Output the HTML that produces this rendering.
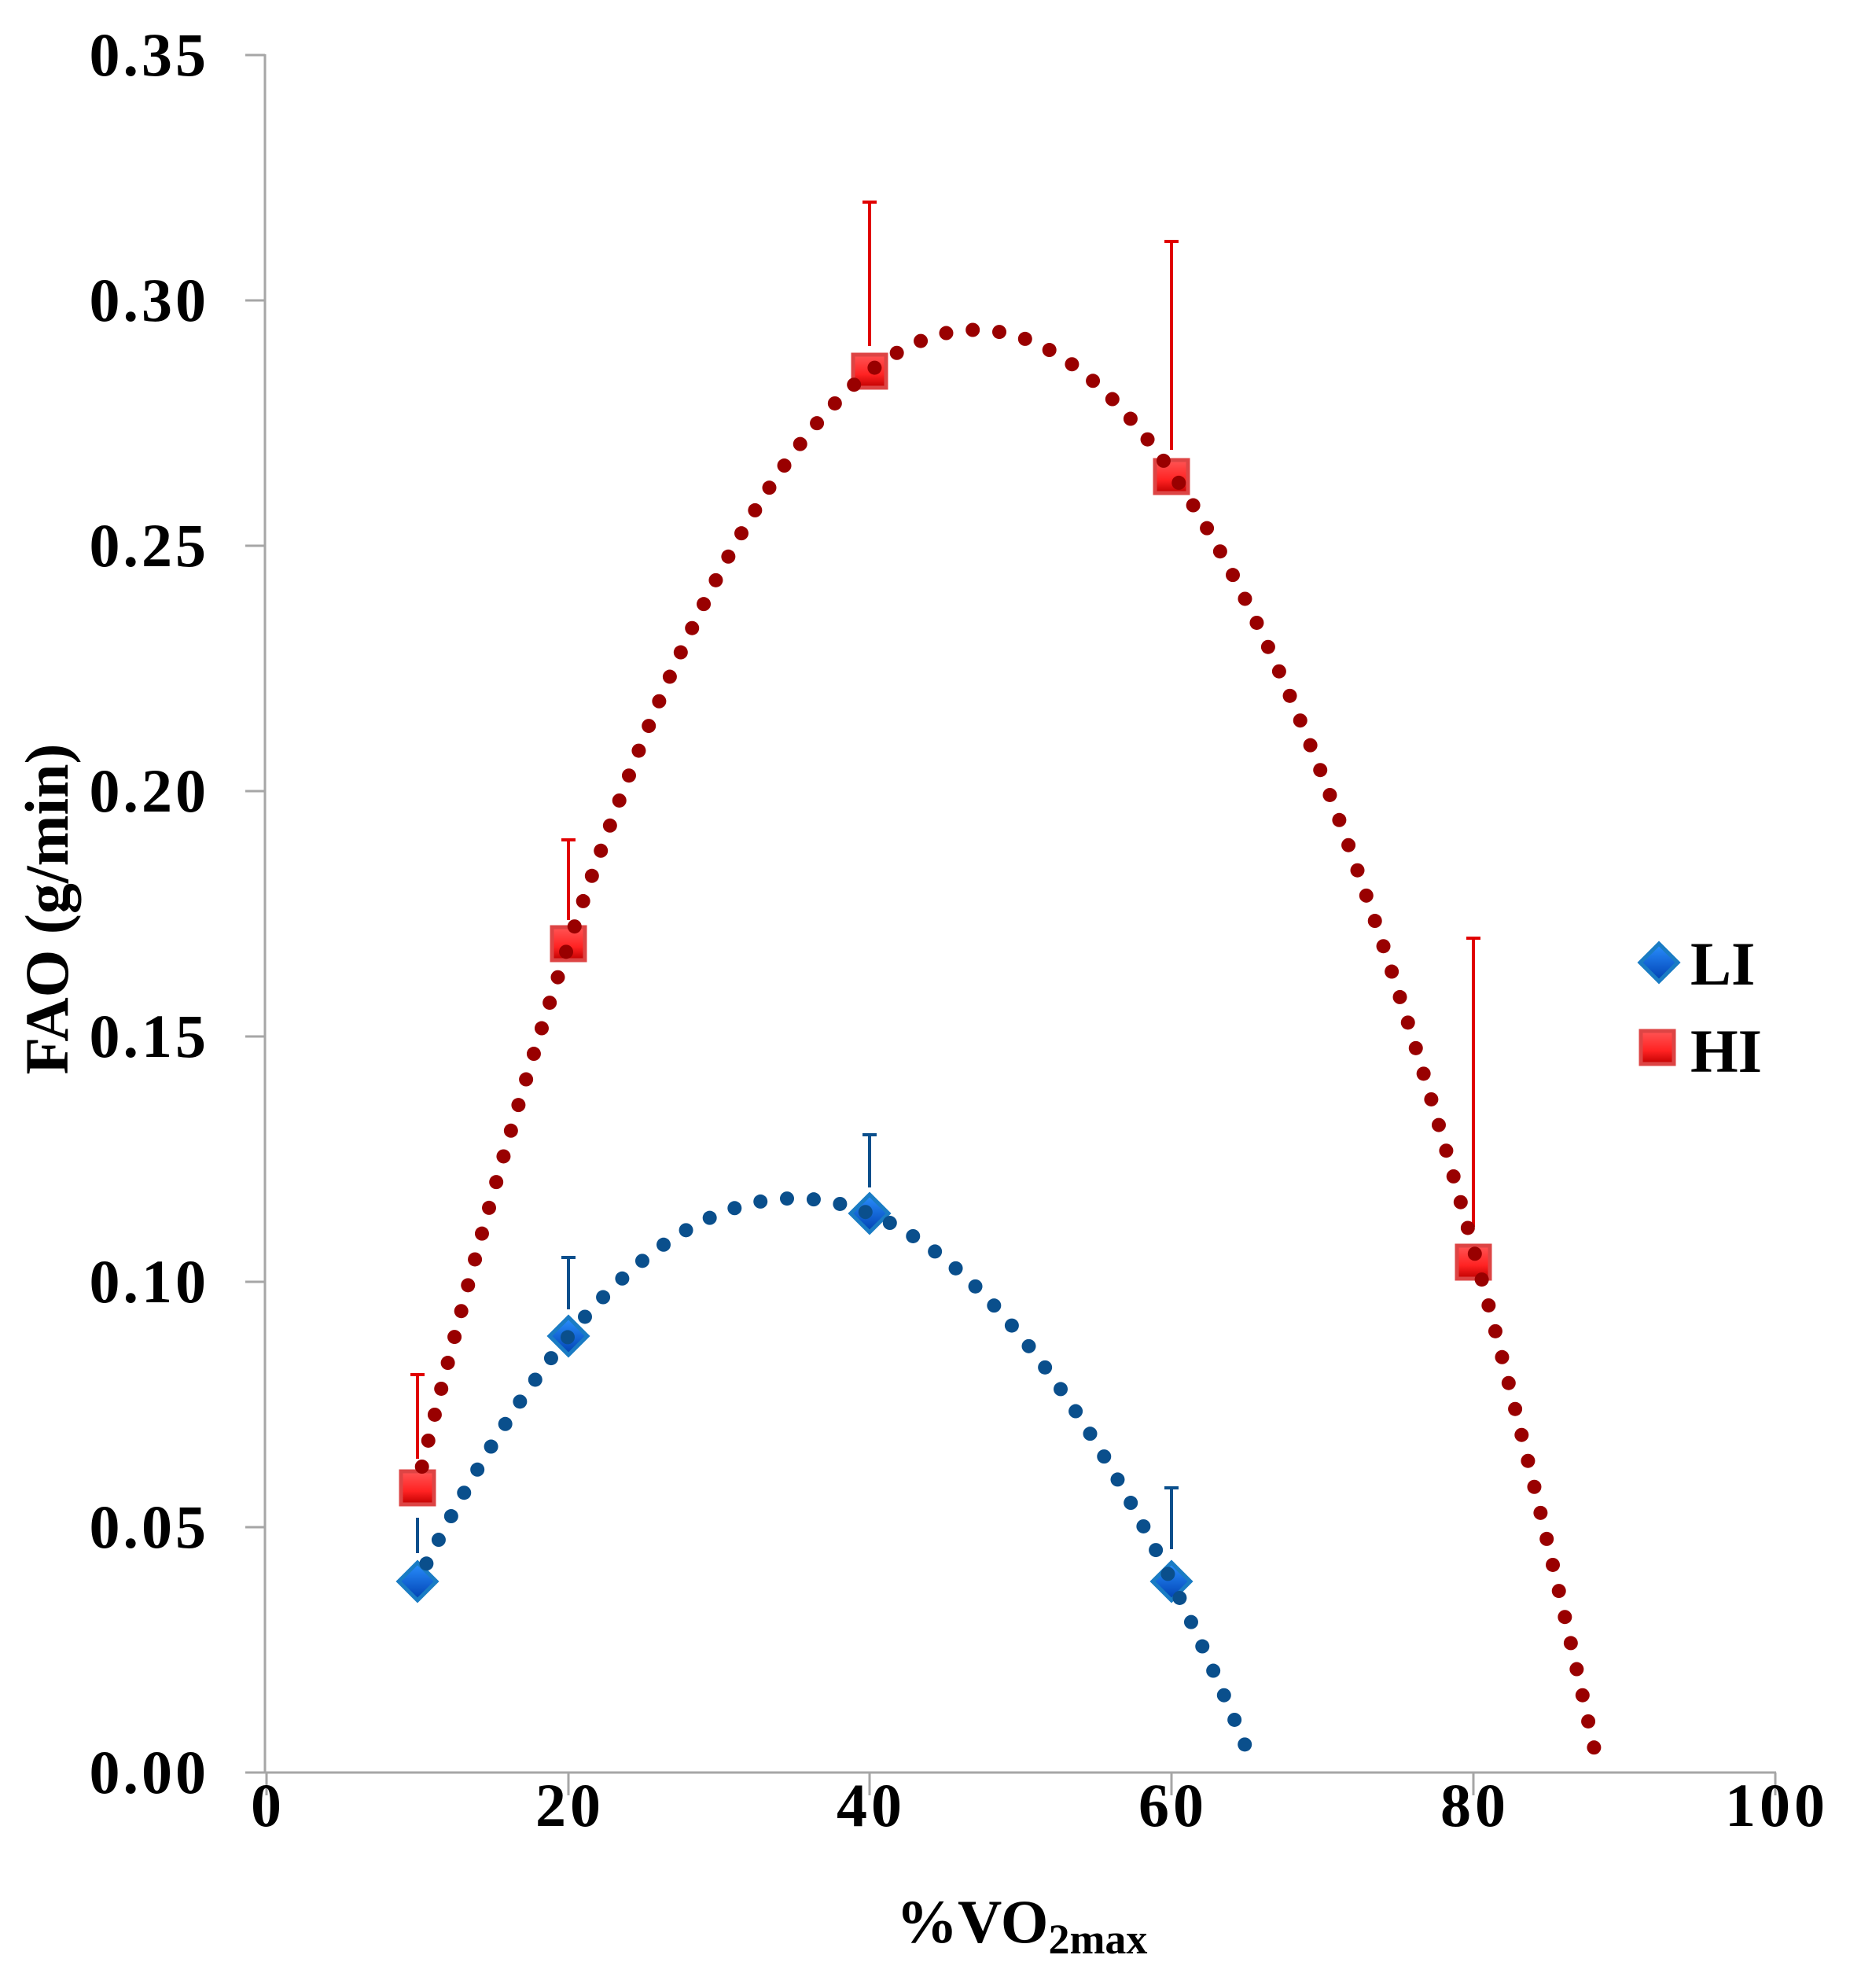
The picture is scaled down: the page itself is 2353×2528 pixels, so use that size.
<!DOCTYPE html>
<html><head><meta charset="utf-8"><style>
html,body{margin:0;padding:0;background:#fff;}
svg{display:block;}
text{font-family:"Liberation Serif",serif;font-weight:bold;fill:#000;}
</style></head><body>
<svg width="2353" height="2528" viewBox="0 0 2353 2528" xmlns="http://www.w3.org/2000/svg">
<defs>
<linearGradient id="rg" x1="0" y1="0" x2="0" y2="1"><stop offset="0" stop-color="#ff5555"/><stop offset="0.6" stop-color="#ff2222"/><stop offset="1" stop-color="#c00000"/></linearGradient>
<linearGradient id="bg" x1="0" y1="0" x2="0" y2="1"><stop offset="0" stop-color="#2a90ff"/><stop offset="1" stop-color="#0040b0"/></linearGradient>
<g id="sq"><rect x="-21" y="-21" width="42" height="42" fill="url(#rg)" stroke="#dd4444" stroke-width="5"/></g>
<g id="dm"><path d="M0,-24 L24,0 L0,24 L-24,0 Z" fill="url(#bg)" stroke="#1a7cc4" stroke-width="5"/></g>
</defs>
<g stroke="#a6a6a6" stroke-width="3" fill="none">
<line x1="337" y1="69" x2="337" y2="2254"/>
<line x1="337" y1="2254" x2="2259" y2="2254"/>
<line x1="312" y1="70" x2="337" y2="70"/>
<line x1="312" y1="382" x2="337" y2="382"/>
<line x1="312" y1="694" x2="337" y2="694"/>
<line x1="312" y1="1006" x2="337" y2="1006"/>
<line x1="312" y1="1318" x2="337" y2="1318"/>
<line x1="312" y1="1630" x2="337" y2="1630"/>
<line x1="312" y1="1942" x2="337" y2="1942"/>
<line x1="312" y1="2254" x2="337" y2="2254"/>
<line x1="339" y1="2254" x2="339" y2="2283"/>
<line x1="723" y1="2254" x2="723" y2="2283"/>
<line x1="1106" y1="2254" x2="1106" y2="2283"/>
<line x1="1490" y1="2254" x2="1490" y2="2283"/>
<line x1="1874" y1="2254" x2="1874" y2="2283"/>
<line x1="2258" y1="2254" x2="2258" y2="2283"/>
</g>
<g font-size="78" text-anchor="end" letter-spacing="4">
<text x="266" y="96">0.35</text>
<text x="266" y="408">0.30</text>
<text x="266" y="720">0.25</text>
<text x="266" y="1032">0.20</text>
<text x="266" y="1344">0.15</text>
<text x="266" y="1656">0.10</text>
<text x="266" y="1968">0.05</text>
<text x="266" y="2280">0.00</text>
</g>
<g font-size="78" text-anchor="middle" letter-spacing="5">
<text x="341" y="2322">0</text>
<text x="725" y="2322">20</text>
<text x="1108" y="2322">40</text>
<text x="1492" y="2322">60</text>
<text x="1876" y="2322">80</text>
<text x="2260" y="2322">100</text>
</g>
<text x="1140" y="2470" font-size="78">%VO<tspan font-size="54" dy="14">2max</tspan></text>
<text transform="translate(86,1156) rotate(-90)" font-size="78" text-anchor="middle">FAO (g/min)</text>
<g stroke="#e00000" stroke-width="4">
<line x1="531" y1="1748" x2="531" y2="1855"/><line x1="522" y1="1748" x2="540" y2="1748"/>
<line x1="723" y1="1068" x2="723" y2="1170"/><line x1="714" y1="1068" x2="732" y2="1068"/>
<line x1="1106" y1="257" x2="1106" y2="440"/><line x1="1097" y1="257" x2="1115" y2="257"/>
<line x1="1490" y1="307" x2="1490" y2="572"/><line x1="1481" y1="307" x2="1499" y2="307"/>
<line x1="1874" y1="1193" x2="1874" y2="1560"/><line x1="1865" y1="1193" x2="1883" y2="1193"/>
</g>
<g stroke="#0a4f8c" stroke-width="4">
<line x1="531" y1="1930" x2="531" y2="1975"/>
<line x1="723" y1="1599" x2="723" y2="1665"/><line x1="714" y1="1599" x2="732" y2="1599"/>
<line x1="1106" y1="1443" x2="1106" y2="1510"/><line x1="1097" y1="1443" x2="1115" y2="1443"/>
<line x1="1490" y1="1892" x2="1490" y2="1970"/><line x1="1481" y1="1892" x2="1499" y2="1892"/>
</g>
<use href="#sq" x="531" y="1892"/>
<use href="#sq" x="723" y="1200"/>
<use href="#sq" x="1106" y="472"/>
<use href="#sq" x="1490" y="606"/>
<use href="#sq" x="1874" y="1605"/>
<use href="#dm" x="531" y="2011"/>
<use href="#dm" x="723" y="1699"/>
<use href="#dm" x="1106" y="1543"/>
<use href="#dm" x="1490" y="2011"/>
<path id="hi" fill="none" stroke="#990000" stroke-width="18" stroke-linecap="round" stroke-dasharray="0 34"/>
<path id="li" fill="none" stroke="#0a4f8c" stroke-width="18" stroke-linecap="round" stroke-dasharray="0 34"/>
<use href="#dm" x="2110" y="1224"/>
<text x="2150" y="1252" font-size="78">LI</text>
<use href="#sq" x="2108" y="1332"/>
<text x="2150" y="1363" font-size="78">HI</text>
<script>
function pts(x0,x1,f){var s="";for(var x=x0;x<=x1+1e-9;x+=0.1){var X=339+19.19*x,Y=2254-6240*f(x);s+=(s?"L":"M")+X.toFixed(1)+","+Y.toFixed(1);}return s;}
document.getElementById("hi").setAttribute("d",pts(10.3,88,function(x){return -0.000172*(x-47)*(x-47)+0.294;}));
document.getElementById("li").setAttribute("d",pts(10.6,65.2,function(x){return -0.000125*(x-35)*(x-35)+0.117;}));
</script>
</svg>
</body></html>
